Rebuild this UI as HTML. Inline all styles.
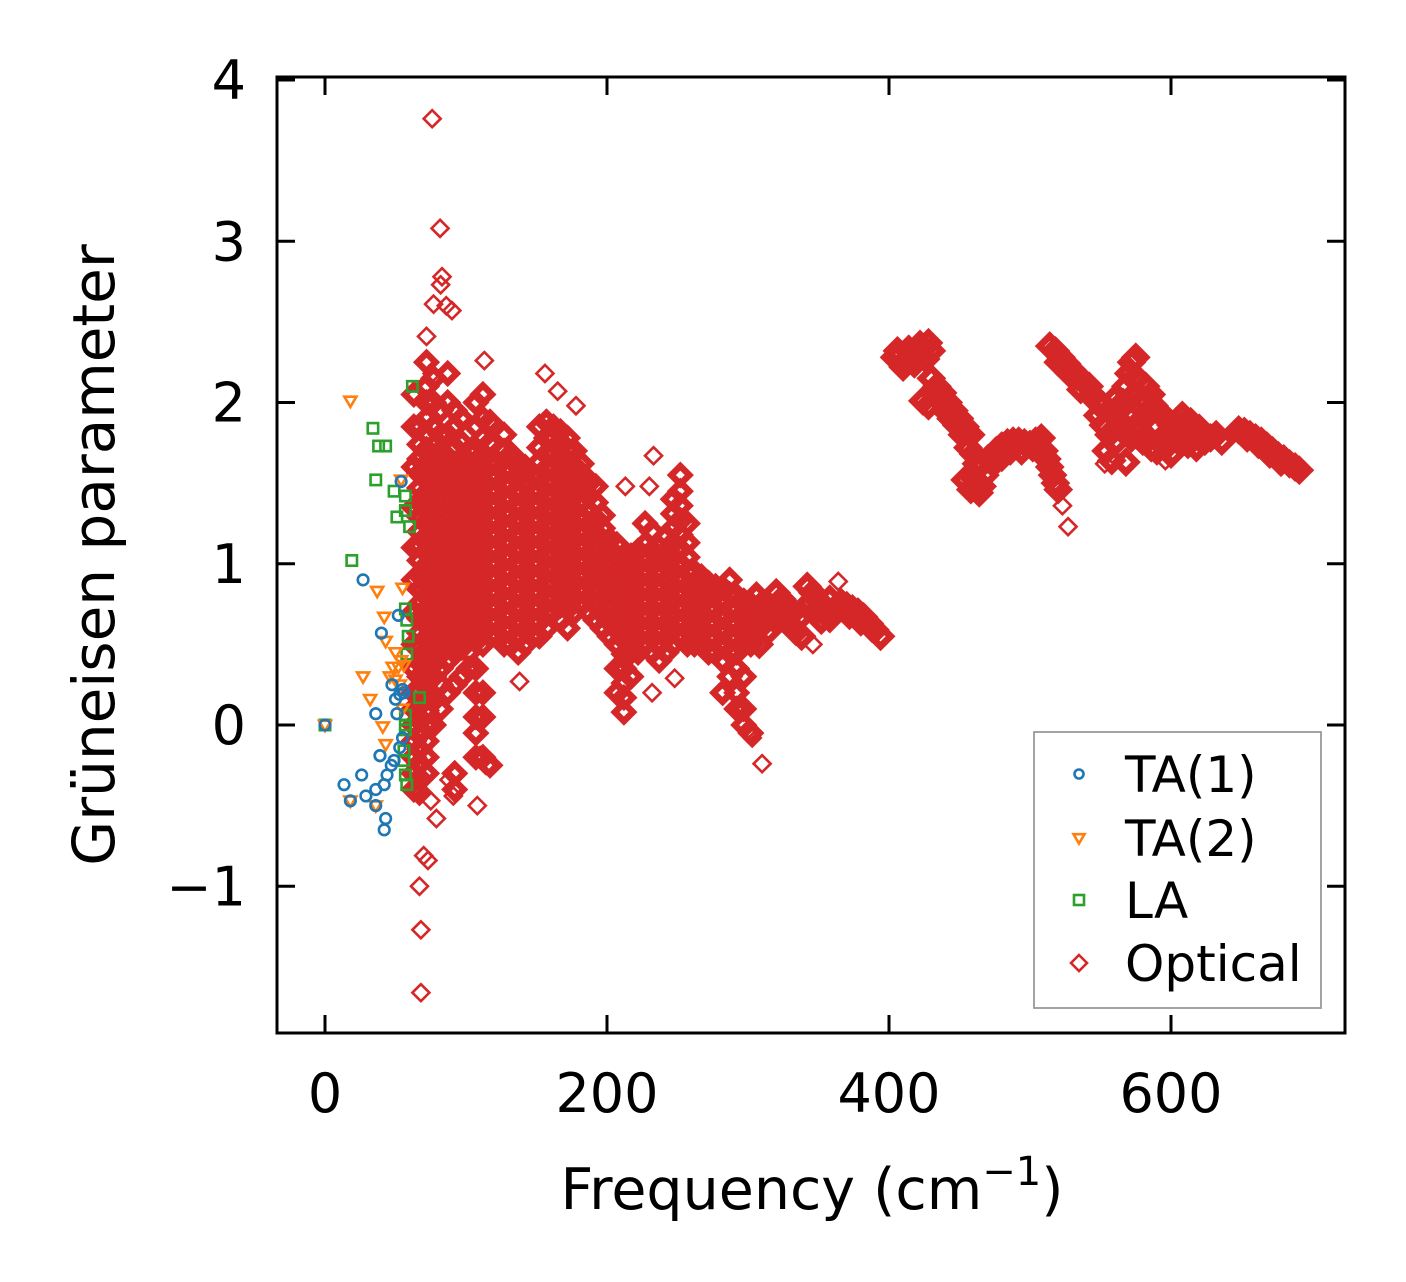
<!DOCTYPE html>
<html><head><meta charset="utf-8"><title>Grüneisen parameter vs frequency</title>
<style>html,body{margin:0;padding:0;background:#fff}svg{display:block}</style></head>
<body>
<svg id="chart" width="1406" height="1282" viewBox="0 0 1406 1282" xmlns="http://www.w3.org/2000/svg" font-family="'DejaVu Sans','Liberation Sans',sans-serif">
<rect x="0" y="0" width="1406" height="1282" fill="#fff"/>
<g id="marks"></g>
<g id="axes"></g>
</svg>
<script>
const xTicks = [0, 200, 400, 600];
const yTicks = [-1, 0, 1, 2, 3, 4];
const yTickLabels = ["\u22121", "0", "1", "2", "3", "4"];

const ta1Freq = [0,13.5,18,26,29,36,36,39,42,43,42,44,39,36,27,40,52,47.5,50,55,53,51,55,53,49,47,54,56];
const ta1Gamma = [0,-0.37,-0.47,-0.31,-0.44,-0.4,-0.5,-0.19,-0.37,-0.58,-0.65,-0.31,-0.19,0.07,0.9,0.57,0.68,0.25,0.16,0.22,0.19,0.07,-0.08,-0.14,-0.22,-0.25,1.51,0.2];

const ta2Freq = [0,18,37,55,27,32,41,43,42,43,50,48,52,54,56,54,18,36,46,50,53,55];
const ta2Gamma = [0,2.01,0.83,0.85,0.3,0.16,-0.01,-0.12,0.67,0.52,0.45,0.36,0.36,0.4,0.37,1.52,-0.47,-0.5,0.3,0.28,0.25,0.1];

const laFreq = [0,19,34,38,43,36,49,57,51,57,60,62,57,58,59,58,67,57,57,56,57,58,56,57];
const laGamma = [0,1.02,1.84,1.73,1.73,1.52,1.45,1.42,1.29,1.33,1.23,2.1,0.72,0.65,0.55,0.44,0.17,0.06,-0.03,-0.22,-0.31,-0.37,-0.16,0.0];

const cloudFreq = [63,67,72,77,82,87,92,97,102,107,112,117,122,127,132,137,142,147,152,157,162,167,172,177,182,187,192,197,202,207,212,217,222,227,232,237,242,247,252,257,262,267,272,277,282,287,292,297,302];
const cloudGamma = [
[-0.4,-0.3,-0.2,-0.1,0,0.1,0.2,0.35,0.5,0.7,0.9,1.1,1.35,1.6,1.85,2.05],
[-0.42,-0.33,-0.24,-0.15,-0.06,0.03,0.12,0.21,0.3,0.39,0.48,0.57,0.66,0.75,0.84,0.93,1.02,1.11,1.2,1.29,1.38,1.47,1.56,1.65,1.74,1.85],
[-0.3,-0.2,-0.1,0,0.09,0.18,0.27,0.36,0.45,0.54,0.63,0.72,0.81,0.9,0.99,1.08,1.17,1.26,1.35,1.44,1.53,1.62,1.71,1.8,1.9,2.0,2.1,2.25],
[0.0,0.15,0.3,0.38,0.47,0.56,0.65,0.74,0.83,0.92,1.01,1.1,1.19,1.28,1.37,1.46,1.55,1.64,1.73,1.85,2.0,2.15],
[0.1,0.25,0.35,0.44,0.53,0.62,0.71,0.8,0.89,0.98,1.07,1.16,1.25,1.34,1.43,1.52,1.61,1.7,1.8,1.95],
[0.2,0.4,0.49,0.58,0.67,0.76,0.85,0.94,1.03,1.12,1.21,1.3,1.39,1.48,1.57,1.66,1.8,2.0,2.18],
[-0.4,-0.3,0.25,0.45,0.54,0.63,0.72,0.81,0.9,0.99,1.08,1.17,1.26,1.35,1.44,1.53,1.62,1.72,1.85,1.95],
[0.3,0.48,0.57,0.66,0.75,0.84,0.93,1.02,1.11,1.2,1.29,1.38,1.47,1.56,1.65,1.75,1.9],
[0.35,0.45,0.54,0.63,0.72,0.81,0.9,0.99,1.08,1.17,1.26,1.35,1.44,1.53,1.62,1.7],
[-0.2,-0.05,0.05,0.2,0.35,0.52,0.61,0.7,0.79,0.88,0.97,1.06,1.15,1.24,1.33,1.42,1.51,1.6,1.7,1.85,2.0],
[-0.2,0.05,0.2,0.5,0.59,0.68,0.77,0.86,0.95,1.04,1.13,1.22,1.31,1.4,1.49,1.58,1.67,1.78,1.9,2.05],
[-0.25,0.55,0.64,0.73,0.82,0.91,1.0,1.09,1.18,1.27,1.36,1.45,1.54,1.63,1.75,1.88],
[0.55,0.64,0.73,0.82,0.91,1.0,1.09,1.18,1.27,1.36,1.45,1.54,1.62],
[0.5,0.59,0.68,0.77,0.86,0.95,1.04,1.13,1.22,1.31,1.4,1.49,1.58,1.7,1.8],
[0.5,0.59,0.68,0.77,0.86,0.95,1.04,1.13,1.22,1.31,1.4,1.49,1.58,1.68],
[0.45,0.54,0.63,0.72,0.81,0.9,0.99,1.08,1.17,1.26,1.35,1.44,1.53,1.62],
[0.5,0.59,0.68,0.77,0.86,0.95,1.04,1.13,1.22,1.31,1.4,1.5,1.6],
[0.55,0.64,0.73,0.82,0.91,1.0,1.09,1.18,1.27,1.36,1.45,1.55],
[0.55,0.64,0.73,0.82,0.91,1.0,1.09,1.18,1.27,1.36,1.45,1.54,1.63,1.72,1.85],
[0.6,0.69,0.78,0.87,0.96,1.05,1.14,1.23,1.32,1.41,1.5,1.59,1.68,1.78,1.88],
[0.7,0.79,0.88,0.97,1.06,1.15,1.24,1.33,1.42,1.51,1.6,1.69,1.78,1.85],
[0.65,0.74,0.83,0.92,1.01,1.1,1.19,1.28,1.37,1.46,1.55,1.64,1.73,1.82],
[0.6,0.72,0.81,0.9,0.99,1.08,1.17,1.26,1.35,1.44,1.53,1.62,1.71,1.78],
[0.7,0.79,0.88,0.97,1.06,1.15,1.24,1.33,1.42,1.51,1.6,1.7],
[0.75,0.84,0.93,1.02,1.11,1.2,1.29,1.38,1.47,1.56,1.62],
[0.7,0.79,0.88,0.97,1.06,1.15,1.24,1.33,1.42,1.5],
[0.65,0.74,0.83,0.92,1.01,1.1,1.19,1.28,1.38,1.48],
[0.6,0.69,0.78,0.87,0.96,1.05,1.14,1.22,1.3],
[0.55,0.64,0.73,0.82,0.91,1.0,1.09,1.15],
[0.2,0.35,0.5,0.59,0.68,0.77,0.86,0.95,1.04,1.12],
[0.08,0.17,0.26,0.35,0.44,0.53,0.62,0.71,0.8,0.89,0.98,1.05],
[0.3,0.45,0.54,0.63,0.72,0.81,0.9,0.99,1.05],
[0.45,0.54,0.63,0.72,0.81,0.9,0.99,1.08],
[0.5,0.59,0.68,0.77,0.86,0.95,1.04,1.12,1.25],
[0.45,0.54,0.63,0.72,0.81,0.9,0.99,1.08,1.2],
[0.4,0.49,0.58,0.67,0.76,0.85,0.94,1.03,1.1],
[0.45,0.54,0.63,0.72,0.81,0.9,0.99,1.08,1.17],
[0.5,0.59,0.68,0.77,0.86,0.95,1.04,1.13,1.22,1.31,1.4],
[0.55,0.64,0.73,0.82,0.91,1.0,1.09,1.18,1.27,1.36,1.45,1.55],
[0.5,0.59,0.68,0.77,0.86,0.95,1.04,1.13,1.25],
[0.5,0.59,0.68,0.77,0.86,0.95],
[0.5,0.59,0.68,0.77,0.86,0.92],
[0.45,0.54,0.63,0.72,0.81,0.88],
[0.45,0.54,0.63,0.72,0.81,0.86],
[0.2,0.4,0.49,0.58,0.67,0.76,0.85],
[0.3,0.45,0.54,0.63,0.72,0.81,0.9],
[0.1,0.2,0.35,0.45,0.54,0.63,0.72,0.8],
[0.0,0.1,0.3,0.5,0.59,0.68,0.77],
[-0.05,0.5,0.59,0.68,0.75]
];

const opticalOutliers = [
[76,3.76],[81.6,3.08],[83,2.78],[82,2.73],[77,2.61],[86,2.6],[90,2.57],[72,2.41],[72,2.26],[76,2.18],[113,2.26],[156,2.18],[165,2.07],[233,1.67],[230,1.48],[213,1.48],[178,1.98],
[73,-0.84],[67,-1.0],[68,-1.27],[68,-1.66],[70,-0.81],[79,-0.58],[75,-0.47],[91,-0.44],[88,-0.34],[108,-0.5],[114,-0.25],[110,-0.19],[106,-0.06],[138,0.27],[248,0.29],[232,0.2],[280,0.2],[310,-0.24],[303,-0.08],[300,-0.03],[294,0.12],[290,0.2],[364,0.89],[346,0.5],[523,1.36],[527,1.23],[553,1.62],[596,1.64]
];

const opticalBands = [
[306,0.8],[310,0.75],[314,0.7],[318,0.66],[306,0.68],[310,0.62],[314,0.58],[302,0.62],[304,0.55],[308,0.5],[320,0.82],[324,0.78],[328,0.74],[332,0.7],[336,0.66],[322,0.7],[326,0.66],[330,0.62],[334,0.58],[338,0.55],[342,0.86],[346,0.82],[350,0.77],[354,0.72],[358,0.66],[344,0.76],[348,0.7],[352,0.65],[366,0.76],[370,0.74],[374,0.72],[378,0.7],[382,0.67],[386,0.63],[390,0.59],[394,0.55],[372,0.68],[380,0.64],[388,0.6],[362,0.72],[358,0.78],
[404,2.28],[408,2.3],[412,2.26],[416,2.28],[420,2.3],[424,2.33],[428,2.37],[430,2.32],[410,2.22],[418,2.24],[426,2.27],[414,2.33],[422,2.36],[406,2.32],
[430,2.15],[434,2.1],[438,2.06],[442,2.0],[446,1.95],[450,1.9],[454,1.85],[458,1.8],[432,2.05],[436,2.02],[440,1.95],[444,1.9],[448,1.86],[452,1.8],[424,2.01],[428,1.98],
[456,1.72],[460,1.68],[462,1.62],[458,1.55],[462,1.5],[466,1.48],[454,1.52],[458,1.46],[464,1.44],[468,1.55],[466,1.62],[470,1.65],
[472,1.66],[476,1.7],[480,1.73],[484,1.75],[488,1.76],[492,1.76],[496,1.75],[500,1.74],[504,1.76],[508,1.78],[474,1.62],[480,1.66],[486,1.7],[494,1.7],[502,1.72],[510,1.7],[512,1.65],[514,1.6],[516,1.55],[518,1.5],[520,1.46],
[514,2.35],[518,2.32],[522,2.28],[526,2.24],[530,2.2],[534,2.16],[538,2.13],[542,2.1],[520,2.25],[528,2.18],[536,2.08],[544,2.05],[548,2.0],[552,1.98],[556,1.95],[560,1.93],[564,1.96],[548,1.92],[552,1.86],[556,1.8],[560,1.75],[554,1.7],[558,1.64],[564,1.88],[566,2.0],[568,2.1],[570,2.18],[572,2.25],[575,2.28],[568,1.82],[572,1.78],[576,1.84],[580,1.9],[584,1.95],[588,1.98],[592,1.94],[596,1.9],[600,1.86],[604,1.84],[608,1.86],[612,1.82],[616,1.8],[620,1.78],[624,1.76],[628,1.78],[632,1.8],[636,1.76],[580,2.02],[586,2.05],[590,1.85],[596,1.8],[600,1.76],[606,1.78],[612,1.74],[618,1.72],[574,2.05],[570,1.92],[560,2.02],[580,1.76],[586,1.72],[590,1.7],[596,1.72],[600,1.68],[576,2.15],[582,2.1],[608,1.92],[614,1.88],[620,1.84],[568,1.63],
[648,1.83],[652,1.82],[656,1.8],[660,1.78],[664,1.76],[668,1.73],[672,1.7],[676,1.67],[680,1.65],[684,1.62],[688,1.6],[691,1.58],[654,1.78],[662,1.74],[670,1.68],[678,1.63]
];

const PL = 277, PR = 1345, PT = 77, PB = 1033;
const X0 = 325, XS = 1.41, Y0 = 725, YS = 161.25;
function xScale(f) { return X0 + f * XS; }
function yScale(g) { return Y0 - g * YS; }

const NS = "http://www.w3.org/2000/svg";
const marks = document.getElementById("marks");
const axes = document.getElementById("axes");
function mk(tag, attrs, parent) {
  const e = document.createElementNS(NS, tag);
  for (const k in attrs) e.setAttribute(k, attrs[k]);
  parent.appendChild(e);
  return e;
}
const C_TA1 = "#1f77b4", C_TA2 = "#ff7f0e", C_LA = "#2ca02c", C_OPT = "#d62728";

function diamond(cx, cy, parent, r, sw) {
  return mk("polygon", {points: `${cx},${cy-r} ${cx+r},${cy} ${cx},${cy+r} ${cx-r},${cy}`, fill: "none", stroke: C_OPT, "stroke-width": sw || 2.6}, parent);
}
function circle(cx, cy, parent, r) {
  return mk("circle", {cx: cx, cy: cy, r: r, fill: "none", stroke: C_TA1, "stroke-width": 2.6}, parent);
}
function tri(cx, cy, parent, r) {
  return mk("polygon", {points: `${cx-r},${cy-r*0.7} ${cx+r},${cy-r*0.7} ${cx},${cy+r}`, fill: "none", stroke: C_TA2, "stroke-width": 2.6}, parent);
}
function square(cx, cy, parent, r) {
  return mk("rect", {x: cx-r, y: cy-r, width: 2*r, height: 2*r, fill: "none", stroke: C_LA, "stroke-width": 2.6}, parent);
}

const gOpt = mk("g", {}, marks);


cloudFreq.forEach((f, i) => {
  cloudGamma[i].forEach(g => {
    const d = diamond(xScale(f), yScale(g), gOpt, 9, 6.5);
    
    
  });
});
opticalBands.forEach(p => {
  const d = diamond(xScale(p[0]), yScale(p[1]), gOpt, 10, 7);
  
  
});
opticalOutliers.forEach(p => {
  const d = diamond(xScale(p[0]), yScale(p[1]), gOpt, 8.5, 2.6);
  
  
});
const gLA = mk("g", {}, marks);


laFreq.forEach((f, i) => {
  const s = square(xScale(f), yScale(laGamma[i]), gLA, 5.2);
  
  
});
const gTA2 = mk("g", {}, marks);


ta2Freq.forEach((f, i) => {
  const t = tri(xScale(f), yScale(ta2Gamma[i]), gTA2, 6);
  
  
});
const gTA1 = mk("g", {}, marks);


ta1Freq.forEach((f, i) => {
  const c = circle(xScale(f), yScale(ta1Gamma[i]), gTA1, 5.3);
  
  
});

const frame = mk("rect", {x: PL, y: PT, width: PR-PL, height: PB-PT, fill: "none", stroke: "#000", "stroke-width": 3}, axes);



xTicks.forEach(v => {
  const x = xScale(v);
  const t1 = mk("line", {x1: x, x2: x, y1: PB, y2: PB-18, stroke: "#000", "stroke-width": 3}, axes);
  
  
  const t2 = mk("line", {x1: x, x2: x, y1: PT, y2: PT+18, stroke: "#000", "stroke-width": 3}, axes);
  
  
  const lb = mk("text", {x: x, y: 1112, "font-size": 54, "text-anchor": "middle", fill: "#000"}, axes);
  lb.textContent = String(v);
  
  
});
yTicks.forEach((v, i) => {
  const y = yScale(v);
  const t1 = mk("line", {x1: PL, x2: PL+18, y1: y, y2: y, stroke: "#000", "stroke-width": 3}, axes);
  
  
  const t2 = mk("line", {x1: PR, x2: PR-18, y1: y, y2: y, stroke: "#000", "stroke-width": 3}, axes);
  
  
  const lb = mk("text", {x: 246, y: y + 19, "font-size": 54, "text-anchor": "end", fill: "#000"}, axes);
  lb.textContent = yTickLabels[i];
  
  
});

const xt = mk("text", {x: 812, y: 1209, "font-size": 57, "text-anchor": "middle", fill: "#000"}, axes);


xt.innerHTML = 'Frequency (cm<tspan font-size="40" dy="-24">\u22121</tspan><tspan dy="24">)</tspan>';
const yt = mk("text", {x: 0, y: 0, "font-size": 58, "text-anchor": "middle", fill: "#000", transform: "translate(114,555) rotate(-90)"}, axes);
yt.textContent = "Grüneisen parameter";



const lg = mk("g", {}, axes);


const lbox = mk("rect", {x: 1034, y: 732, width: 287, height: 276, fill: "#fff", stroke: "#999", "stroke-width": 1.8}, lg);


const legendNames = ["TA(1)", "TA(2)", "LA", "Optical"];
const legendY = [774, 838, 900, 963];
legendNames.forEach((n, i) => {
  const y = legendY[i];
  let m;
  if (i === 0) m = circle(1079, y, lg, 4.5);
  else if (i === 1) m = tri(1079, y, lg, 5.5);
  else if (i === 2) m = square(1079, y, lg, 5);
  else m = diamond(1079, y, lg, 8, 2.6);
  
  
  const t = mk("text", {x: 1125, y: y + 18, "font-size": 50, fill: "#000"}, lg);
  t.textContent = n;
  
  
});
</script>
</body></html>
